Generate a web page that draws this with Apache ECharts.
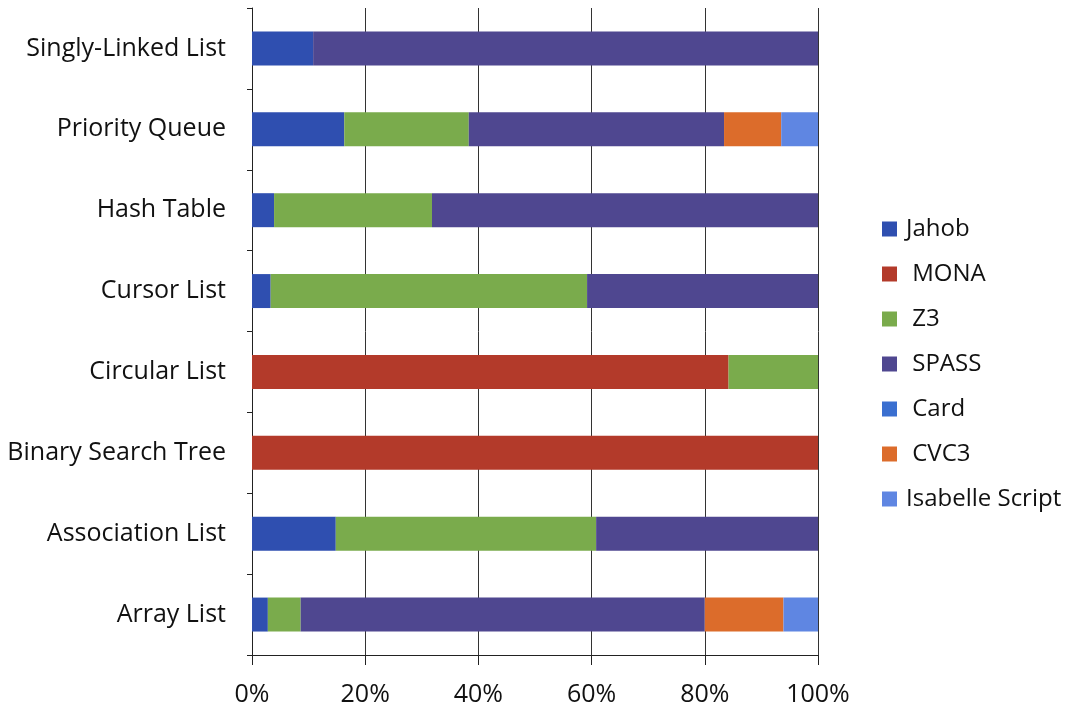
<!DOCTYPE html>
<html>
<head>
<meta charset="utf-8">
<script src="https://cdn.jsdelivr.net/npm/echarts@6/dist/echarts.min.js"></script>
<style>
  html, body { margin: 0; padding: 0; background: #ffffff; }
  #chart { width: 1072px; height: 715px; }
</style>
</head>
<body>
<div id="chart"></div>
<script>
// Share of proof obligations discharged by each prover, per data structure (percent)
const categories = ['Singly-Linked List', 'Priority Queue', 'Hash Table', 'Cursor List',
                    'Circular List', 'Binary Search Tree', 'Association List', 'Array List'];
const seriesNames = ['Jahob', ' MONA', ' Z3', ' SPASS', ' Card', ' CVC3', 'Isabelle Script'];
const jahob    = [10.8, 16.3, 3.9, 3.3, 0, 0, 14.8, 2.8];
const mona     = [0, 0, 0, 0, 84.2, 100, 0, 0];
const z3       = [0, 22.0, 27.9, 55.9, 15.8, 0, 46.0, 5.8];
const spass    = [89.2, 45.1, 68.2, 40.8, 0, 0, 39.2, 71.4];
const card     = [0, 0, 0, 0, 0, 0, 0, 0];
const cvc3     = [0, 10.1, 0, 0, 0, 0, 0, 13.9];
const isabelle = [0, 6.5, 0, 0, 0, 0, 0, 6.1];
const xTicks = [0, 20, 40, 60, 80, 100];

const colors = ['#2f4fb0', '#b33a2a', '#7aab4c', '#4f4790', '#3a6fd0', '#dc6c2b', '#5f86e2'];
const values = [jahob, mona, z3, spass, card, cvc3, isabelle];
const FONT = '"Open Sans", "DejaVu Sans", sans-serif';

const chart = echarts.init(document.getElementById('chart'), null, { renderer: 'canvas' });
chart.setOption({
  animation: false,
  backgroundColor: '#ffffff',
  color: colors,
  grid: { left: 252, right: 254, top: 8, bottom: 60, containLabel: false },
  legend: {
    orient: 'vertical',
    left: 877,
    top: 212,
    itemWidth: 15,
    itemHeight: 15,
    itemGap: 21,
    icon: 'rect',
    textStyle: { fontFamily: FONT, fontSize: 24, color: '#111111', padding: [0, 0, 0, 4] },
    data: seriesNames
  },
  xAxis: {
    type: 'value',
    min: xTicks[0],
    max: xTicks[xTicks.length - 1],
    interval: xTicks[1] - xTicks[0],
    axisLine: { show: true, lineStyle: { color: '#222222', width: 1 } },
    axisTick: { show: true, length: 10, inside: false, lineStyle: { color: '#222222' } },
    splitLine: { show: true, lineStyle: { color: '#333333', width: 1 } },
    axisLabel: {
      margin: 27,
      fontFamily: FONT, fontSize: 25, color: '#111111',
      formatter: '{value}%'
    }
  },
  yAxis: {
    type: 'category',
    inverse: true,
    data: categories,
    axisLine: { show: true, lineStyle: { color: '#222222', width: 1 } },
    axisTick: { show: true, length: 5, inside: false, alignWithLabel: false, lineStyle: { color: '#222222' } },
    splitLine: { show: false },
    axisLabel: { margin: 26, fontFamily: FONT, fontSize: 25, color: '#111111' }
  },
  series: seriesNames.map((name, i) => ({
    name: name,
    type: 'bar',
    stack: 'total',
    barCategoryGap: '58%',
    data: values[i],
    itemStyle: { color: colors[i] }
  }))
});
</script>
</body>
</html>
